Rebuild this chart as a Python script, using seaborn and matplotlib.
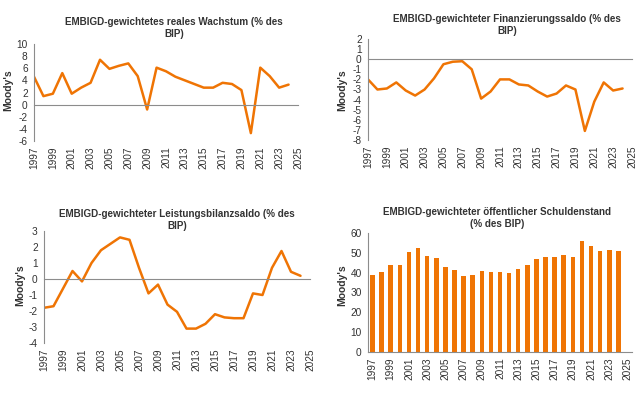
import numpy as np
import pandas as pd
import matplotlib
matplotlib.use("Agg")
import matplotlib.pyplot as plt
import seaborn as sns

sns.set_style("white")
plt.rcParams['font.family'] = ['Liberation Sans', 'DejaVu Sans']
plt.rcParams['axes.unicode_minus'] = False

# data
years = list(range(1997, 2025))
growth = [4.6, 1.4, 1.8, 5.2, 1.8, 2.8, 3.6, 7.4, 5.9, 6.4, 6.8, 4.7, -0.8, 6.1,
          5.5, 4.6, 4.0, 3.4, 2.8, 2.8, 3.6, 3.4, 2.4, -4.7, 6.1, 4.7, 2.8, 3.3]
fiscal = [-2.0, -3.0, -2.9, -2.3, -3.1, -3.6, -3.0, -1.9, -0.5, -0.25, -0.2, -1.0, -3.9, -3.2,
          -2.0, -2.0, -2.5, -2.6, -3.2, -3.7, -3.4, -2.6, -3.0, -7.1, -4.2, -2.3, -3.1, -2.9]
current = [-1.8, -1.7, -0.6, 0.5, -0.15, 1.0, 1.8, 2.2, 2.6, 2.45, 0.7, -0.9, -0.35, -1.6,
           -2.05, -3.1, -3.1, -2.8, -2.2, -2.4, -2.45, -2.45, -0.9, -1.0, 0.7, 1.75, 0.45, 0.2]
debt = [38.8, 40.2, 43.8, 44.1, 50.5, 52.4, 48.2, 47.4, 42.8, 41.5, 38.2, 38.8, 41.0, 40.5,
        40.5, 39.7, 42.0, 43.8, 46.8, 47.7, 48.0, 48.8, 47.8, 56.0, 53.2, 51.0, 51.4, 51.1]
tick_years = list(range(1997, 2026, 2))

titles = ["EMBIGD-gewichtetes reales Wachstum (% des\nBIP)",
          "EMBIGD-gewichteter Finanzierungssaldo (% des\nBIP)",
          "EMBIGD-gewichteter Leistungsbilanzsaldo (% des\nBIP)",
          "EMBIGD-gewichteter öffentlicher Schuldenstand\n(% des BIP)"]

ORANGE = "#EF7404"
GREY = "#8C8C8C"
TXT = "#333333"
W, H = 640, 403
TICK_FS = 7.3
TITLE_FS = 7.1

fig = plt.figure(figsize=(6.4, 4.03), dpi=100)


def make_ax(left, right, top, bottom):
    return fig.add_axes([left / W, 1 - bottom / H, (right - left) / W, (bottom - top) / H])


def style_y(ax, ylim, step):
    ax.set_ylim(*ylim)
    ax.set_yticks(np.arange(ylim[0], ylim[1] + 0.1, step))
    for s in ['top', 'right']:
        ax.spines[s].set_visible(False)
    ax.spines['left'].set_color(GREY)
    ax.spines['left'].set_linewidth(0.8)
    ax.tick_params(axis='y', length=3, width=0.8, color=GREY, labelsize=TICK_FS,
                   labelcolor=TXT, pad=1.5)
    ax.set_ylabel("")


def line_panel(ax, values, ylim, step):
    df = pd.DataFrame({'year': years, 'val': values})
    sns.lineplot(data=df, x='year', y='val', ax=ax, color=ORANGE, linewidth=1.8)
    style_y(ax, ylim, step)
    ax.set_xlim(1997, 2025)
    ax.set_xticks(tick_years)
    ax.spines['bottom'].set_position(('data', 0))
    ax.spines['bottom'].set_color(GREY)
    ax.spines['bottom'].set_linewidth(0.8)
    ax.tick_params(axis='x', length=3, width=0.8, color=GREY, direction='out', labelbottom=False)
    ax.set_xlabel("")
    sec = ax.secondary_xaxis('bottom')
    sec.set_xticks(tick_years)
    sec.set_xticklabels([str(y) for y in tick_years], rotation=90)
    sec.tick_params(length=0, labelsize=TICK_FS, labelcolor=TXT, pad=4)
    sec.spines['bottom'].set_visible(False)


ax1 = make_ax(34, 298, 44, 141)
line_panel(ax1, growth, (-6, 10), 2)
ax2 = make_ax(368, 632, 39, 140)
line_panel(ax2, fiscal, (-8, 2), 1)
ax3 = make_ax(44, 310, 231, 343)
line_panel(ax3, current, (-4, 3), 1)

# bar panel, 2025 slot stays empty
ax4 = make_ax(368, 632, 233, 352)
cats = [str(y) for y in range(1997, 2026)]
bar_df = pd.DataFrame({'year': [str(y) for y in years], 'val': debt})
sns.barplot(data=bar_df, x='year', y='val', order=cats, ax=ax4, color=ORANGE,
            width=0.5, saturation=1, linewidth=0)
style_y(ax4, (0, 60), 10)
ax4.set_xlim(-0.5, len(cats) - 0.5)
ax4.set_xticks(range(0, len(cats), 2))
ax4.set_xticklabels(cats[::2], rotation=90)
ax4.set_xticks(np.arange(-0.5, len(cats), 2), minor=True)
ax4.tick_params(axis='x', which='major', length=0, labelsize=TICK_FS, labelcolor=TXT, pad=4)
ax4.tick_params(axis='x', which='minor', length=3, width=0.8, color=GREY, direction='out')
ax4.spines['bottom'].set_color(GREY)
ax4.spines['bottom'].set_linewidth(0.8)
ax4.set_xlabel("")

# titles and y labels placed like the original chart areas
title_pos = [(174, 28), (507, 25), (177, 220), (497, 218)]
ylab_pos = [(8, 90), (342, 90), (20, 285), (342, 285)]
for t, (tx, ty), (lx, ly) in zip(titles, title_pos, ylab_pos):
    fig.text(tx / W, 1 - ty / H, t, ha='center', va='center', fontsize=TITLE_FS,
             fontweight='bold', color=TXT, linespacing=1.15)
    fig.text(lx / W, 1 - ly / H, "Moody's", ha='center', va='center', rotation=90,
             fontsize=7.5, fontweight='bold', color=TXT)

fig.savefig("out.png", dpi=100, facecolor='white')
